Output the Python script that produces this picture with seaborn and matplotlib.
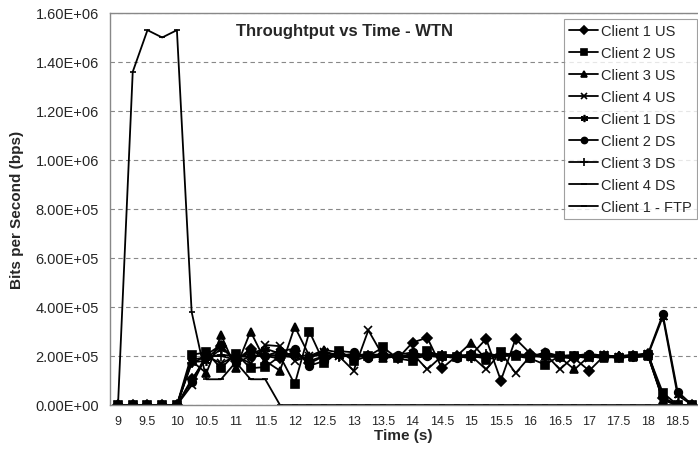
import numpy as np
import pandas as pd
import matplotlib
matplotlib.use("Agg")
import matplotlib.pyplot as plt
import seaborn as sns
from matplotlib.ticker import FuncFormatter, FixedLocator

# ==============================
# DATA (bits per second, in kbps)
# ==============================

time_s = [9, 9.25, 9.5, 9.75, 10, 10.25, 10.5, 10.75, 11, 11.25,
          11.5, 11.75, 12, 12.25, 12.5, 12.75, 13, 13.25, 13.5, 13.75,
          14, 14.25, 14.5, 14.75, 15, 15.25, 15.5, 15.75, 16, 16.25,
          16.5, 16.75, 17, 17.25, 17.5, 17.75, 18, 18.25, 18.5, 18.75]

client1_us = [0, 0, 0, 0, 0, 105, 190, 240, 180, 230, 200, 190, 220, 170, 200, 210, 195, 200, 205, 190,
              255, 275, 150, 200, 205, 270, 100, 270, 210, 200, 195, 190, 140, 200, 195, 200, 210, 30, 0, 0]
client2_us = [0, 0, 0, 0, 0, 205, 215, 150, 210, 150, 155, 200, 85, 300, 170, 220, 180, 200, 235, 190,
              180, 220, 200, 195, 200, 190, 215, 200, 190, 165, 200, 200, 195, 200, 190, 200, 205, 50, 0, 0]
client3_us = [0, 0, 0, 0, 0, 180, 130, 285, 150, 300, 180, 140, 320, 200, 225, 215, 195, 205, 190, 200,
              195, 210, 205, 200, 255, 185, 200, 210, 195, 215, 195, 145, 200, 190, 200, 195, 200, 20, 0, 0]
client4_us = [0, 0, 0, 0, 0, 80, 200, 170, 200, 170, 245, 240, 180, 200, 215, 200, 140, 305, 200, 195,
              210, 145, 200, 195, 200, 145, 215, 130, 200, 210, 145, 200, 190, 205, 195, 200, 210, 20, 0, 0]
client1_ds = [0, 0, 0, 0, 0, 175, 180, 230, 190, 210, 230, 210, 200, 190, 220, 200, 210, 195, 200, 200,
              190, 200, 195, 200, 190, 205, 195, 210, 200, 195, 200, 205, 200, 195, 200, 195, 205, 360, 40, 0]
client2_ds = [0, 0, 0, 0, 0, 95, 205, 245, 170, 200, 200, 220, 230, 160, 180, 220, 215, 190, 200, 205,
              215, 200, 200, 190, 210, 200, 205, 210, 190, 215, 200, 200, 210, 200, 195, 205, 210, 370, 55, 0]
client3_ds = [0, 0, 0, 0, 0, 170, 200, 200, 185, 220, 200, 205, 210, 180, 200, 195, 205, 200, 210, 200,
              200, 210, 205, 200, 195, 210, 200, 205, 205, 200, 200, 195, 205, 200, 200, 195, 200, 30, 0, 0]
client4_ds = [0, 0, 0, 0, 0, 185, 195, 205, 200, 195, 205, 200, 195, 205, 200, 205, 200, 210, 200, 195,
              205, 200, 200, 205, 200, 200, 205, 200, 200, 205, 200, 200, 205, 200, 200, 205, 200, 25, 0, 0]
client1_ftp = [0, 1360, 1530, 1500, 1530, 380, 105, 105, 175, 105, 105, 0, 0, 0, 0, 0, 0, 0, 0, 0,
               0, 0, 0, 0, 0, 0, 0, 0, 0, 0, 0, 0, 0, 0, 0, 0, 0, 0, 0, 0]

series_names = ["Client 1 US", "Client 2 US", "Client 3 US", "Client 4 US",
                "Client 1 DS", "Client 2 DS", "Client 3 DS", "Client 4 DS", "Client 1 - FTP"]
series_values = [client1_us, client2_us, client3_us, client4_us,
                 client1_ds, client2_ds, client3_ds, client4_ds, client1_ftp]

# ==============================
# STYLE
# ==============================

markers = ["D", "s", "^", "x", (6, 2, 0), "o", "+", "_", "_"]
msizes = [5, 6, 5.5, 5.5, 6.5, 5.5, 7, 6, 5]

sns.set_style("white")
plt.rcParams["font.family"] = ["Liberation Sans", "DejaVu Sans"]

fig = plt.figure(figsize=(6.98, 4.52), dpi=100)
ax = fig.add_axes([110 / 698, 1 - 406 / 452, 587 / 698, 392 / 452])

# ==============================
# PLOT
# ==============================

for name, vals, mk, ms in zip(series_names, series_values, markers, msizes):
    df = pd.DataFrame({"Time": time_s, "bps": np.array(vals) * 1000.0})
    sns.lineplot(data=df, x="Time", y="bps", ax=ax, color="black", linewidth=1.3,
                 marker=mk, markersize=ms, markeredgecolor="black",
                 markerfacecolor="black", markeredgewidth=1.2, label=name)

ax.set_xlim(8.864, 18.83)
ax.set_ylim(0, 1.6e6)

ax.yaxis.set_major_locator(FixedLocator(np.arange(0, 1.61e6, 2e5)))
ax.yaxis.set_major_formatter(FuncFormatter(lambda v, p: "%.2E" % v))
ax.grid(axis="y", color="#888888", linestyle=(0, (4, 3)), linewidth=0.8)
ax.grid(axis="x", visible=False)

ax.xaxis.set_major_locator(FixedLocator(np.arange(9, 18.6, 0.5)))
ax.xaxis.set_minor_locator(FixedLocator(np.arange(8.875, 18.8, 0.25)))
ax.tick_params(axis="x", which="major", length=0, labelsize=9, pad=7)
ax.tick_params(axis="x", which="minor", length=4, width=0.8, color="#777777", direction="out")
ax.tick_params(axis="y", which="major", length=5, width=0.8, color="#777777",
               direction="out", labelsize=10.5, pad=3)
ax.xaxis.set_major_formatter(FuncFormatter(lambda v, p: "%g" % v))

for side in ["left", "bottom", "top"]:
    ax.spines[side].set_color("#888888")
    ax.spines[side].set_linewidth(1.0)
ax.spines["right"].set_visible(False)

ax.set_xlabel("Time (s)", fontsize=11, fontweight="bold", labelpad=1)
ax.set_ylabel("Bits per Second (bps)", fontsize=11, fontweight="bold", labelpad=8)
ax.text(0.40, 0.955, "Throughtput vs Time - WTN", transform=ax.transAxes,
        ha="center", va="center", fontsize=12, fontweight="bold")

leg = ax.legend(loc="upper right", bbox_to_anchor=(1.0, 0.985), borderaxespad=0,
                fontsize=10.5, frameon=True, fancybox=False, edgecolor="#888888",
                handlelength=2.0, handletextpad=0.2, labelspacing=0.55, borderpad=0.35,
                markerscale=0.8)
leg.get_frame().set_linewidth(0.8)

fig.savefig("out.png", dpi=100)
